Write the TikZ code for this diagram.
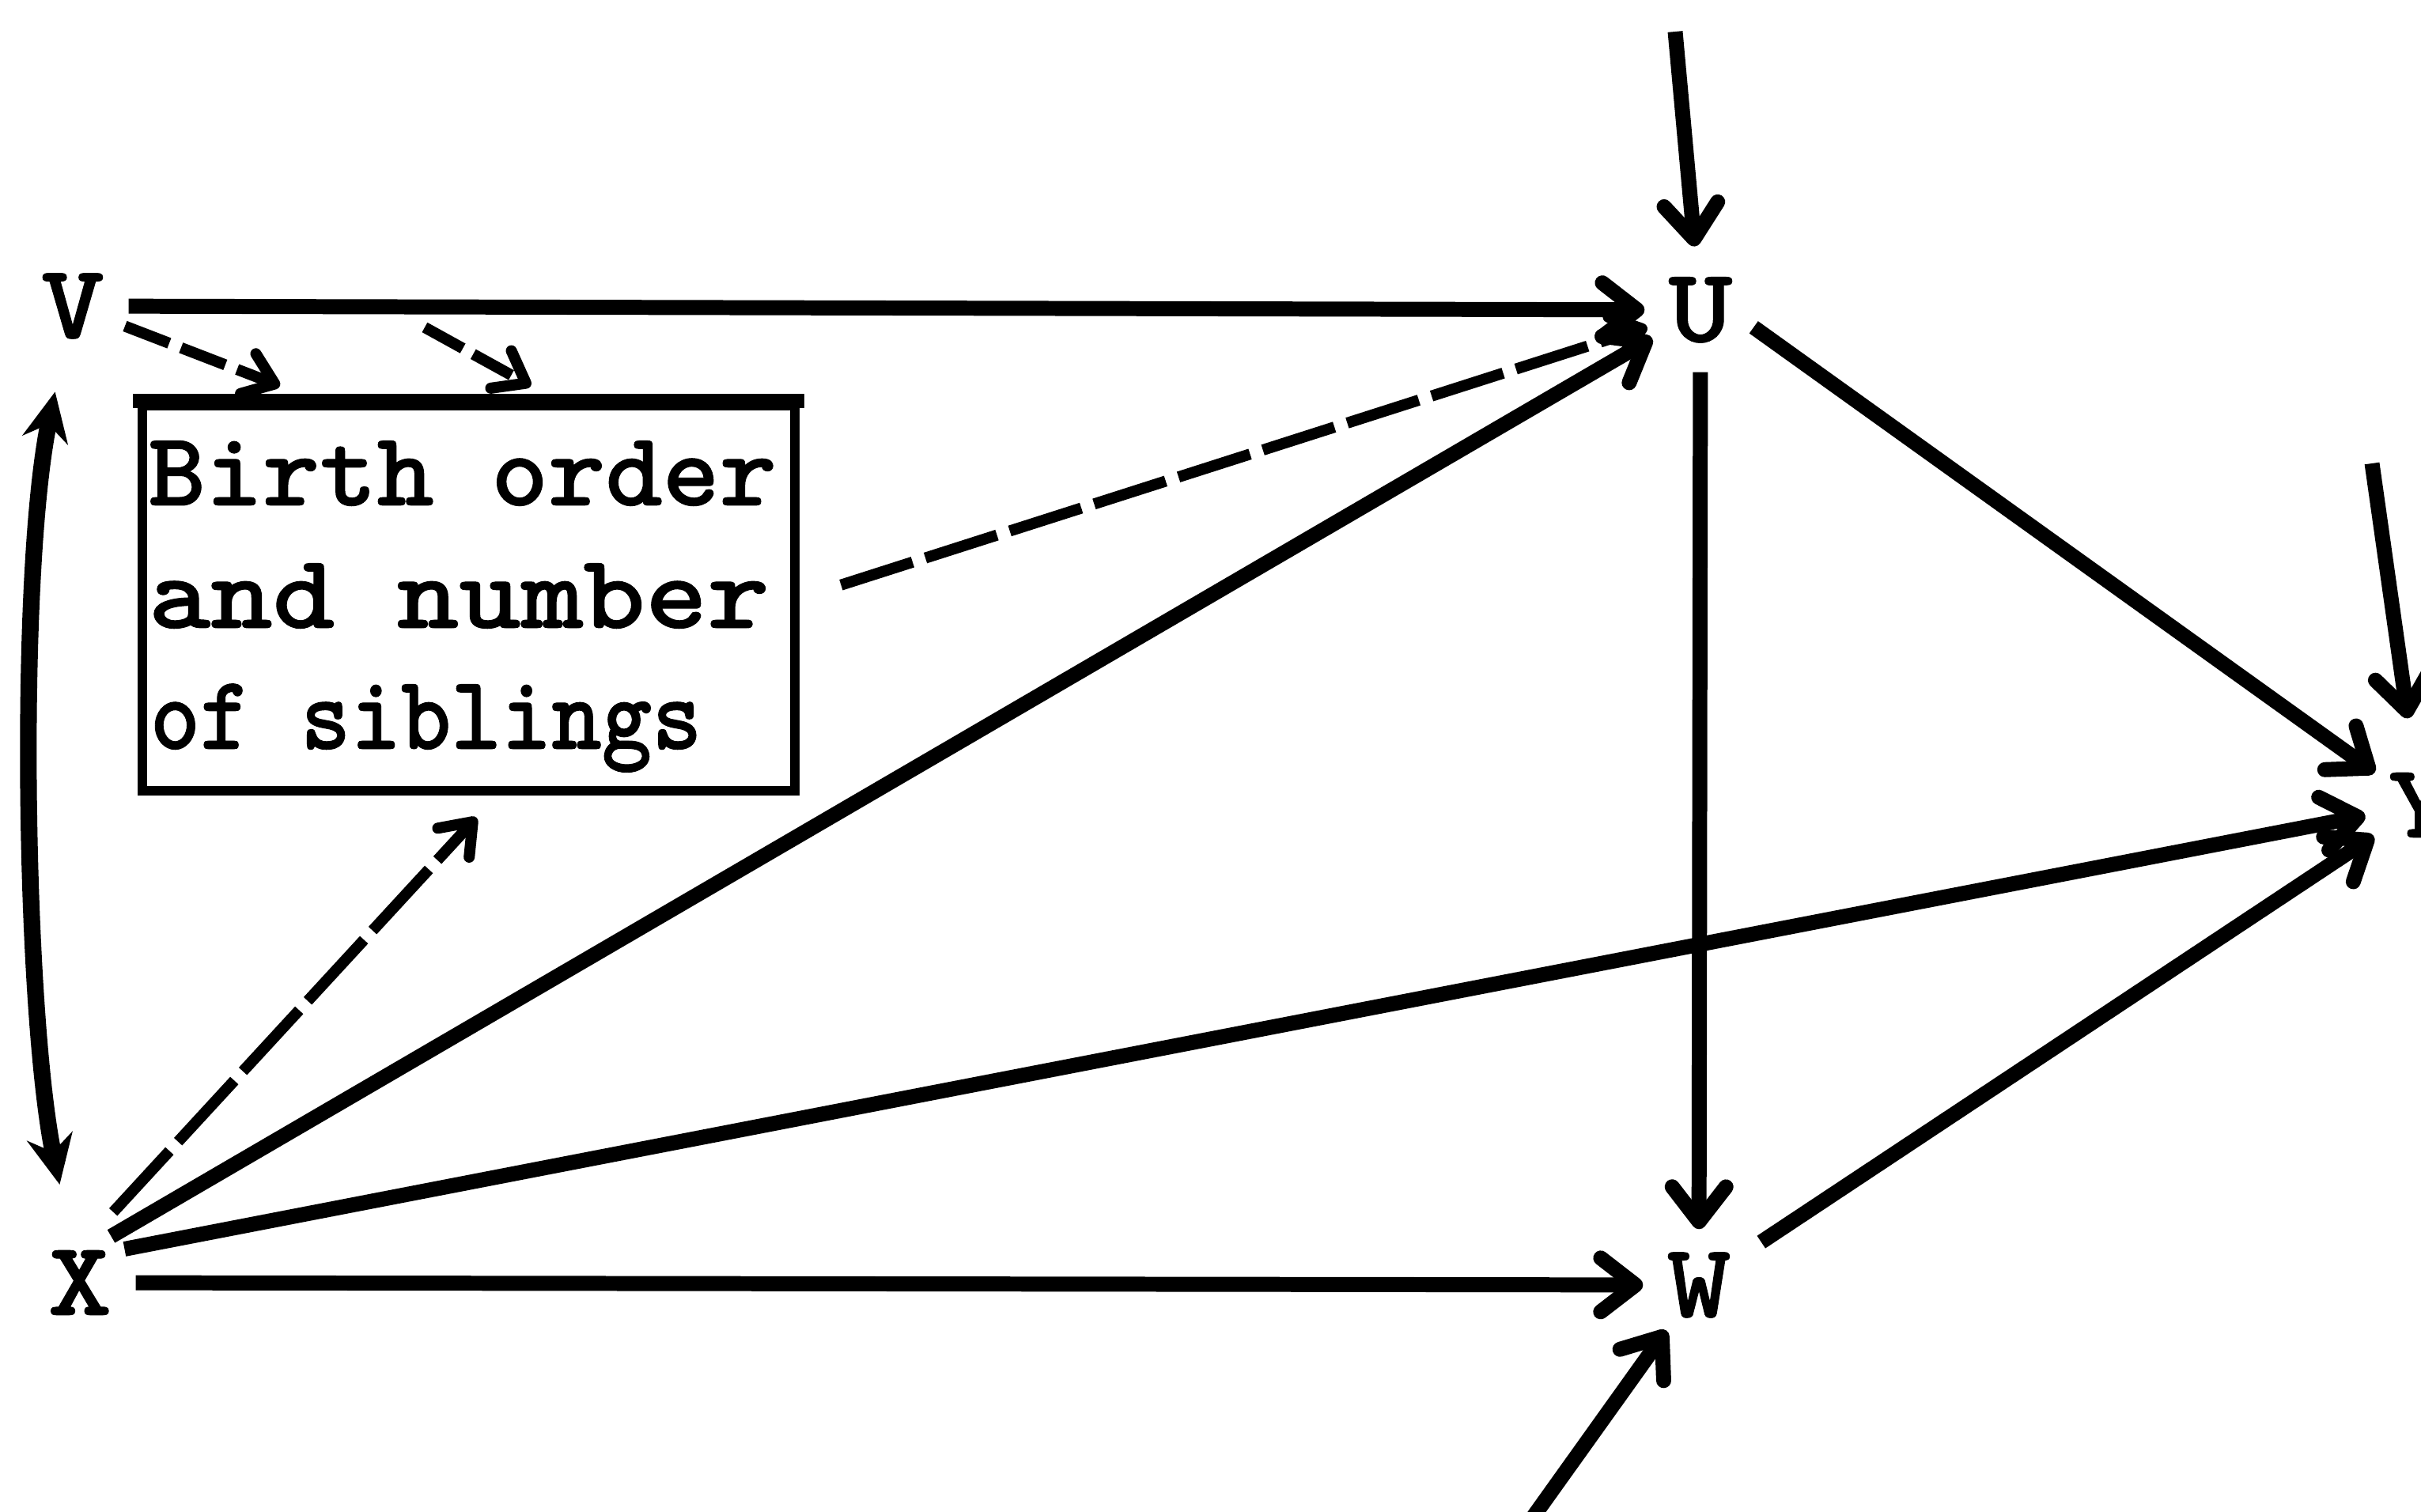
\documentclass[tikz,border=0pt]{standalone}
\usepackage{graphicx}
\usepackage{fontspec}
\newfontfamily\twfont{lmmonolt10-bold}[Extension=.otf, FakeBold=0.7]
\usetikzlibrary{arrows.meta,calc}
\newcommand\lettfont{\twfont\fontsize{38}{44}\selectfont}
\tikzset{
  lett/.style={circle, minimum size=1.4cm, inner sep=0pt, font=\lettfont},
  solidarr/.style={line width=5.4pt, -{Straight Barb[length=0.44cm,width=0.68cm,round]}},
  dasharr/.style={line width=4pt, -{Straight Barb[length=0.36cm,width=0.54cm,round]}},
  curvearr/.style={line width=6pt, {Stealth[length=0.62cm,width=0.58cm]}-{Stealth[length=0.62cm,width=0.58cm]}},
  boxtext/.style={anchor=base west, inner sep=0pt, font=\lettfont},
  sibbox/.style={draw, line width=3.4pt, minimum width=8.25cm, minimum height=4.87cm, inner sep=0pt}
}
\begin{document}
\begin{tikzpicture}
\useasboundingbox (0,0) rectangle (30.61,-19.12);
\clip (0,0) rectangle (30.61,-19.12);
\fill[white] (0,0) rectangle (30.61,-19.12);

% nodes
\node[lett] (V) at (0.92,-3.87) {\scalebox{1.15}[1]{V}};
\node[lett] (U) at (21.50,-3.92) {\scalebox{1.15}[1]{U}};
\node[lett] (X) at (1.01,-16.22) {\scalebox{1.15}[1]{X}};
\node[lett] (W) at (21.48,-16.25) {\scalebox{1.15}[1]{W}};
\node[lett] (Y) at (30.60,-10.18) {\scalebox{1.15}[1]{Y}};

\node[sibbox] (box) at (5.925,-7.565) {};
\draw[line width=5pt] ([xshift=-1.7pt]box.north west) -- ([xshift=1.7pt]box.north east);
\node[boxtext] (t1) at (1.87,-6.39) {\scalebox{1.03}[1]{Birth order}};
\node[boxtext] (t2) at (1.87,-7.94) {\scalebox{1.12}[1]{and number}};
\node[boxtext] (t3) at (1.89,-9.47) {\scalebox{0.905}[1]{of siblings}};

% free ends
\coordinate (vu) at (5.37,-4.14);
\coordinate (tu) at (21.18,-0.40);
\coordinate (ty) at (29.99,-5.86);
\coordinate (bw) at (19.30,-19.30);

% connectors
\draw[solidarr] (V) -- (U);
\draw[dasharr, dash pattern=on 0.6cm off 0.16cm] (V) -- ($(box.north west)!0.215!(box.north east)+(0,0.19)$);
\draw[dasharr, dash pattern=on 0.55cm off 0.15cm] (vu) -- ($(box.north west)!0.594!(box.north east)+(0,0.19)$);
\draw[dasharr, dash pattern=on 0.95cm off 0.17cm, shorten <=0.55cm] (box.east) -- (U);
\draw[solidarr] (X.56) -- (U);
\draw[dasharr, dash pattern=on 1.05cm off 0.16cm, shorten <=0.3cm] (X.72) -- ($(box.south)+(0.1,-0.28)$);
\draw[curvearr, shorten <=0.4cm, shorten >=0.56cm] (V) .. controls +(-0.7,-3.4) and +(-0.7,3.4) .. (X);
\draw[solidarr] (X.37) -- (Y);
\draw[solidarr] (X) -- (W);
\draw[solidarr, shorten <=0.08cm] (U) -- (W);
\draw[solidarr] (U.-18) -- (Y);
\draw[solidarr, shorten <=0.25cm] (W.35) -- (Y);
\draw[solidarr, shorten >=0.1cm] (tu) -- (U);
\draw[solidarr, shorten >=0.4cm] (ty) -- (Y);
\draw[solidarr] (bw) -- (W);
\end{tikzpicture}
\end{document}
